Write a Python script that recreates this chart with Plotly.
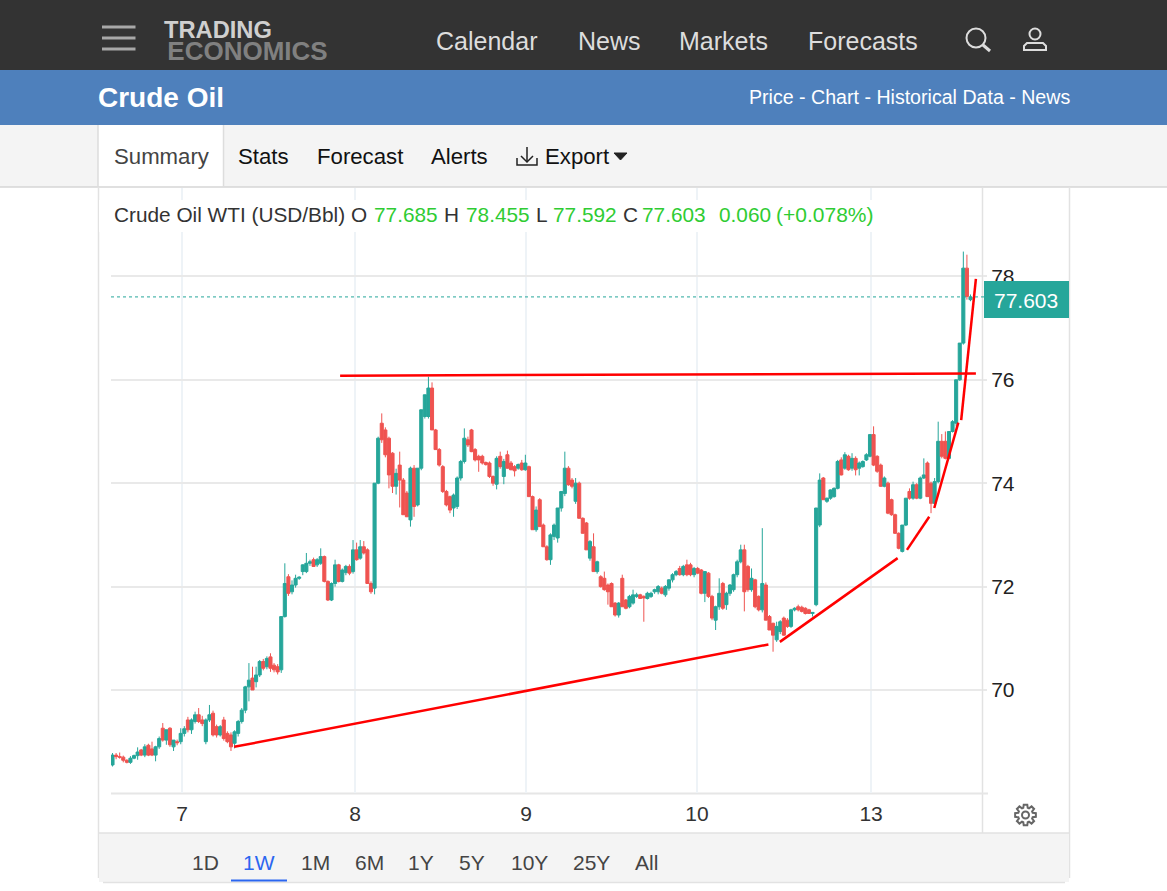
import math
import plotly.graph_objects as go

# Half hour candles for crude oil
opens = [
    68.55,68.74,68.71,68.70,68.64,68.60,68.68,68.73,68.84,68.74,
    68.93,68.86,68.74,68.90,69.26,69.03,69.26,68.90,69.00,69.00,
    69.16,69.42,69.23,69.39,69.52,69.42,69.00,69.42,69.55,69.29,
    69.13,69.42,69.16,69.13,68.97,69.16,69.39,69.61,70.06,70.23,
    70.16,70.29,70.55,70.45,70.64,70.48,70.45,70.39,71.42,72.19,
    71.90,72.03,72.16,72.29,72.29,72.45,72.52,72.42,72.45,72.58,
    72.10,71.74,72.06,72.42,72.10,72.27,72.39,72.29,72.71,72.55,
    72.77,72.71,72.06,71.97,74.00,75.16,75.03,74.87,74.58,73.94,
    74.35,74.06,73.81,73.29,74.29,73.58,74.29,75.29,75.29,75.84,
    75.03,74.65,74.32,73.84,73.74,73.52,73.55,74.10,74.42,74.84,
    75.03,74.65,74.52,74.52,74.40,74.39,74.13,73.98,74.52,74.13,
    74.55,74.39,74.32,74.29,74.39,74.26,74.32,73.74,73.10,73.68,
    73.19,72.77,72.52,72.97,72.94,73.52,73.80,74.29,74.06,73.65,
    74.00,73.32,73.23,72.55,72.77,72.29,72.19,72.16,72.03,72.06,
    71.68,71.45,72.16,71.74,71.61,71.68,71.81,71.84,71.81,71.77,
    71.81,71.90,71.90,71.97,71.84,71.97,72.13,72.23,72.35,72.23,
    72.42,72.42,72.23,72.35,72.32,71.87,72.26,71.81,71.35,71.61,
    72.06,71.65,71.87,71.94,72.23,72.48,72.71,72.39,71.94,72.13,
    71.81,71.55,72.03,71.42,71.29,70.97,71.13,71.39,71.35,71.23,
    71.55,71.61,71.60,71.58,71.55,71.48,71.65,73.19,74.10,73.65,
    73.71,73.74,73.90,74.45,74.29,74.52,74.29,74.48,74.29,74.32,
    74.45,74.52,74.94,74.52,74.35,73.94,74.00,73.68,73.39,73.03,
    72.68,73.19,73.84,73.71,73.97,73.71,74.10,74.39,74.00,73.61,
    74.03,74.81,74.81,74.48,75.00,75.16,76.00,76.71,78.16,77.55,
]
highs = [
    68.78,68.78,68.79,68.73,68.66,68.72,68.75,68.89,68.86,68.95,
    68.96,69.00,68.92,69.10,69.36,69.23,69.28,69.03,69.04,69.26,
    69.30,69.48,69.45,69.58,69.65,69.50,69.45,69.71,69.60,69.33,
    69.32,69.48,69.20,69.18,69.22,69.42,69.65,70.08,70.52,70.45,
    70.45,70.58,70.60,70.65,70.71,70.52,70.50,71.42,72.45,72.24,
    72.12,72.23,72.20,72.43,72.65,72.52,72.56,72.55,72.74,72.60,
    72.12,72.08,72.52,72.44,72.35,72.42,72.43,72.90,72.85,72.90,
    72.88,72.74,72.10,74.00,74.90,75.35,75.08,74.90,74.60,74.28,
    74.61,74.10,73.85,74.32,74.35,74.29,75.42,75.71,76.06,75.95,
    75.05,74.68,74.35,73.87,73.76,73.80,74.13,74.45,75.06,74.90,
    75.05,74.68,74.55,74.55,74.42,74.42,74.15,74.52,74.61,74.47,
    74.63,74.43,74.35,74.38,74.45,74.55,74.34,73.76,73.55,73.71,
    73.22,72.80,73.03,73.22,73.52,73.84,74.61,74.33,74.10,74.10,
    74.03,73.34,73.25,72.90,73.03,72.50,72.22,72.29,72.06,72.08,
    71.70,71.70,72.23,71.76,71.84,71.94,71.88,71.86,71.83,71.90,
    71.90,71.96,72.03,72.00,72.03,72.14,72.26,72.32,72.40,72.42,
    72.52,72.46,72.38,72.38,72.34,72.30,72.28,71.84,71.63,72.16,
    72.09,71.90,72.05,72.25,72.52,72.81,72.81,72.42,72.35,72.15,
    71.83,73.13,72.08,71.45,71.30,71.32,71.35,71.42,71.39,71.57,
    71.60,71.65,71.63,71.60,71.57,71.50,73.52,74.19,74.12,73.72,
    73.88,73.92,74.45,74.50,74.60,74.55,74.58,74.52,74.42,74.44,
    74.58,74.94,75.10,74.54,74.38,74.13,74.03,73.70,73.41,73.05,
    73.19,73.71,73.90,74.03,74.00,74.13,74.48,74.42,74.03,74.10,
    75.19,74.95,75.00,75.00,75.22,76.00,76.71,78.48,78.42,77.65,
]
lows = [
    68.52,68.66,68.67,68.60,68.58,68.57,68.66,68.65,68.72,68.70,
    68.72,68.72,68.62,68.86,69.00,68.94,68.90,68.82,68.93,68.95,
    69.10,69.18,69.15,69.35,69.36,69.30,68.95,69.38,69.10,69.08,
    69.10,69.02,68.97,68.82,68.87,69.10,69.35,69.55,69.78,70.00,
    70.05,70.25,70.38,70.40,70.35,70.34,70.30,70.33,71.40,71.82,
    71.85,71.98,72.13,72.22,72.26,72.40,72.38,72.38,72.42,72.08,
    71.72,71.72,72.00,72.08,72.08,72.22,72.22,72.25,72.50,72.52,
    72.62,72.05,71.86,71.85,73.98,74.78,74.50,73.90,73.81,73.78,
    73.53,73.39,73.35,73.16,73.35,73.55,74.25,75.25,75.25,75.03,
    74.65,74.32,73.81,73.55,73.42,73.35,73.50,74.05,74.38,74.70,
    74.60,74.42,74.22,74.36,74.34,74.10,73.95,73.88,74.28,73.98,
    74.28,74.25,74.13,74.26,74.24,74.24,73.74,73.10,73.06,73.16,
    72.77,72.50,72.42,72.90,72.85,73.45,73.75,73.95,73.90,73.60,
    73.32,73.03,72.71,72.50,72.29,72.25,71.98,71.92,71.65,71.61,
    71.42,71.40,71.61,71.56,71.58,71.65,71.78,71.76,71.32,71.75,
    71.78,71.86,71.85,71.85,71.80,71.92,72.08,72.20,72.21,72.20,
    72.20,72.20,72.18,72.24,71.85,71.70,71.78,71.35,71.16,71.55,
    71.55,71.55,71.82,71.90,72.18,72.45,71.52,71.90,71.90,71.58,
    71.52,71.50,71.35,71.16,70.74,70.93,71.08,71.05,71.20,71.20,
    71.52,71.52,71.50,71.46,71.47,71.42,71.62,73.15,73.68,73.62,
    73.68,73.72,73.88,74.15,74.26,74.24,74.24,74.15,74.15,74.30,
    74.43,74.50,74.33,74.20,73.93,73.92,73.40,73.37,73.02,72.72,
    72.66,73.17,73.68,73.68,73.69,73.69,74.08,73.74,73.42,73.59,
    74.00,74.48,74.46,74.46,74.98,75.10,75.98,76.68,77.55,77.52,
]
closes = [
    68.74,68.71,68.70,68.64,68.60,68.68,68.73,68.80,68.74,68.90,
    68.74,68.74,68.90,69.06,69.03,69.23,68.94,69.03,68.98,69.16,
    69.25,69.23,69.42,69.52,69.39,69.35,69.42,69.52,69.13,69.13,
    69.29,69.06,69.00,68.90,69.19,69.39,69.61,70.06,70.19,70.00,
    70.29,70.55,70.42,70.61,70.42,70.39,70.35,71.42,72.06,71.87,
    72.03,72.16,72.18,72.42,72.45,72.48,72.39,72.52,72.58,72.10,
    71.74,72.06,72.42,72.10,72.32,72.39,72.26,72.71,72.52,72.77,
    72.65,72.06,71.90,74.00,74.87,74.84,74.55,74.16,73.94,74.19,
    74.06,73.39,73.35,74.29,73.55,74.29,75.42,75.71,75.84,75.03,
    74.65,74.35,73.84,73.58,73.48,73.77,74.10,74.42,74.87,74.74,
    74.61,74.45,74.45,74.39,74.36,74.13,74.00,74.48,74.32,74.42,
    74.29,74.26,74.24,74.36,74.26,74.39,73.74,73.10,73.48,73.16,
    72.77,72.52,73.00,73.19,73.52,73.84,74.29,73.97,73.94,74.00,
    73.32,73.03,72.71,72.87,72.29,72.48,72.00,71.94,71.90,71.61,
    71.45,71.68,71.61,71.58,71.81,71.84,71.84,71.77,71.78,71.87,
    71.87,71.94,72.00,71.87,72.00,72.13,72.23,72.29,72.23,72.39,
    72.23,72.23,72.35,72.26,71.87,72.29,71.81,71.39,71.61,71.87,
    71.58,71.87,72.03,72.23,72.48,72.71,71.90,71.94,72.16,71.61,
    71.55,72.06,71.35,71.16,71.06,71.23,71.32,71.06,71.23,71.55,
    71.58,71.55,71.52,71.48,71.48,71.50,73.52,74.06,73.68,73.71,
    73.87,73.90,74.42,74.16,74.55,74.26,74.48,74.26,74.39,74.42,
    74.55,74.94,74.35,74.23,73.94,74.10,73.42,73.39,73.03,72.74,
    73.19,73.71,73.71,73.97,73.71,74.10,74.16,73.74,73.61,74.03,
    74.81,74.52,74.48,75.00,75.19,76.00,76.71,78.16,77.61,77.60,
]
candle_index = list(range(len(closes)))

day_labels = ["7", "8", "9", "10", "13"]
day_positions = [19.36, 67.55, 115.2, 162.8, 211.3]
price_ticks = [70, 72, 74, 76, 78]
last_price = 77.603

# Red trend lines somebody drew on top of the chart
resistance_x = [63.4, 240.5]
resistance_y = [76.08, 76.12]
support_x = [[33.9, 182.7], [185.9, 218.7], [221.3, 227.5], [228.9, 235.6], [236.4, 240.5]]
support_y = [[68.90, 70.88], [70.93, 72.55], [72.71, 73.35], [73.52, 75.17], [75.22, 77.95]]

menu_labels = ["Calendar", "News", "Markets", "Forecasts"]
menu_left = [436, 578, 679, 808]
tab_labels = ["Stats", "Forecast", "Alerts", "Export"]
tab_left = [238, 317, 431, 545]
range_labels = ["1D", "1W", "1M", "6M", "1Y", "5Y", "10Y", "25Y", "All"]
range_center = [205, 259, 315, 369, 421, 472, 529, 591, 646]

WIDTH, HEIGHT = 1167, 891
FONT = "Liberation Sans"
TEAL = "#26a69a"
CORAL = "#ef5350"
GREEN = "#2fcc33"
GRID = "#e9e9e9"
BORDER = "#e2e2e2"


def px(x):
    return x / WIDTH


def py(y):
    return 1 - y / HEIGHT


shapes = []
annotations = []


def rect(x0, y0, x1, y1, fill, layer="below"):
    shapes.append(dict(type="rect", xref="paper", yref="paper", x0=px(x0), x1=px(x1),
                       y0=py(y0), y1=py(y1), fillcolor=fill, line_width=0, layer=layer))


def line(x0, y0, x1, y1, color, width=1, layer="below"):
    shapes.append(dict(type="line", xref="paper", yref="paper", x0=px(x0), x1=px(x1),
                       y0=py(y0), y1=py(y1), line=dict(color=color, width=width), layer=layer))


def path(points, color, width=2, fill=None, close=False):
    d = "M " + " L ".join(f"{px(a):.5f} {py(b):.5f}" for a, b in points)
    if close:
        d += " Z"
    shapes.append(dict(type="path", xref="paper", yref="paper", path=d, layer="above",
                       line=dict(color=color, width=width), fillcolor=fill))


def circle(cx, cy, r, color, width=2):
    shapes.append(dict(type="circle", xref="paper", yref="paper", x0=px(cx - r), x1=px(cx + r),
                       y0=py(cy - r), y1=py(cy + r), line=dict(color=color, width=width), layer="above"))


def label(text, x, y, size, color, anchor="left", bold=False):
    if bold:
        text = f"<b>{text}</b>"
    annotations.append(dict(text=text, x=px(x), y=py(y), xref="paper", yref="paper", showarrow=False,
                            xanchor=anchor, yanchor="middle", align=anchor, borderpad=0, borderwidth=0,
                            font=dict(family=FONT, size=size, color=color)))


# page bars
rect(0, 0, WIDTH, 70, "#333333")
rect(0, 70, WIDTH, 125, "#4e80bc")
rect(0, 125, WIDTH, 187, "#f4f4f4")
rect(98, 125, 223, 188, "white")
line(0, 187, WIDTH, 187, "#d6d6d6", 1.5)
line(98, 125, 98, 187, "#dddddd", 1.5)
line(223.5, 125, 223.5, 187, "#dddddd", 1.5)

# panel round the chart
line(98.5, 187, 98.5, 878, BORDER, 1.5)
line(1069.5, 187, 1069.5, 878, BORDER, 1.5)
rect(99, 833, 1069, 882, "#f4f4f4")
line(99, 833, 1069, 833, BORDER, 1.5)
line(103, 882.5, 1065, 882.5, BORDER, 1.5)
line(982.5, 188, 982.5, 833, BORDER, 1.5)
line(111, 793.5, 988, 793.5, "#e6e6e6", 2)

# hamburger and logo, the logo is one text in two lines
for bar_y in [27, 38, 49]:
    line(102, bar_y, 135.5, bar_y, "#a8a8a8", 3)
logo = ("<b><span style='font-size:23.7px;color:#cfcfcf'>TRADING</span><br>"
        "<span style='font-size:12px'>&nbsp;</span>"
        "<span style='font-size:26px;color:#808080'>ECONOMICS</span></b>")
label(logo, 164, 41, 17, "#cfcfcf")
for name, left in zip(menu_labels, menu_left):
    label(name, left, 41, 25, "#dddddd")

# search and user icons
circle(976, 38, 9.5, "#dddddd")
path([(983, 45), (990, 51)], "#dddddd", 3)
circle(1035, 34, 5.5, "#dddddd")
path([(1024, 50), (1024, 46), (1027, 43), (1043, 43), (1046, 46), (1046, 50)], "#dddddd", 2, close=True)

label("Crude Oil", 98, 98, 28, "white", bold=True)
label("Price - Chart - Historical Data - News", 1070, 97, 19.6, "white", anchor="right")

label("Summary", 114, 157, 22.2, "#444444")
for name, left in zip(tab_labels, tab_left):
    label(name, left, 157, 22.2, "#111111")

# export arrow and caret
path([(527, 147), (527, 161)], "#222222", 1.5)
path([(521, 156), (527, 162), (533, 156)], "#222222", 1.5)
path([(517, 158), (517, 165), (537, 165), (537, 158)], "#222222", 1.5)
path([(614, 153), (627, 153), (620.5, 160)], "#222222", 1, fill="#222222", close=True)

# white strip behind the header hides the grid there
rect(99, 200, 981, 232, "white", layer="above")
label("Crude Oil WTI (USD/Bbl) O", 114, 214, 20.8, "#333333")
label("77.685", 374, 214, 20.8, GREEN)
label("H", 444, 214, 20.8, "#333333")
label("78.455", 466, 214, 20.8, GREEN)
label("L", 536, 214, 20.8, "#333333")
label("77.592", 553, 214, 20.8, GREEN)
label("C", 623, 214, 20.8, "#333333")
label("77.603", 642, 214, 20.8, GREEN)
label("0.060", 719, 214, 20.8, GREEN)
label("(+0.078%)", 776, 214.5, 21, GREEN)

# last price line and its box
shapes.append(dict(type="line", xref="paper", yref="y", x0=px(111), x1=px(984), y0=last_price, y1=last_price,
                   line=dict(color=TEAL, width=1, dash="dot"), layer="above"))
rect(984, 281, 1069, 318, TEAL, layer="above")
label(f"{last_price:.3f}", 1026, 300, 21, "white", anchor="center")

# gear
gear = []
for k in range(8):
    mid = k * math.pi / 4
    for off, rad in [(-0.30, 7.5), (-0.17, 10.5), (0.17, 10.5), (0.30, 7.5)]:
        gear.append((1025.5 + rad * math.cos(mid + off), 815 + rad * math.sin(mid + off)))
path(gear, "#666666", 2, close=True)
circle(1025.5, 815, 3.5, "#666666", 2)

# range selector
for name, center in zip(range_labels, range_center):
    label(name, center, 862, 21, "#2b66f0" if name == "1W" else "#444444", anchor="center")
line(231, 880.5, 287, 880.5, "#2b66f0", 2)

fig = go.Figure()
fig.add_trace(go.Candlestick(
    x=candle_index, open=opens, high=highs, low=lows, close=closes,
    increasing=dict(line=dict(color=TEAL, width=1), fillcolor=TEAL),
    decreasing=dict(line=dict(color=CORAL, width=1), fillcolor=CORAL),
    whiskerwidth=0, showlegend=False,
))
fig.add_trace(go.Scatter(x=resistance_x, y=resistance_y, mode="lines",
                         line=dict(color="#ff0000", width=2.5), showlegend=False))
for seg_x, seg_y in zip(support_x, support_y):
    fig.add_trace(go.Scatter(x=seg_x, y=seg_y, mode="lines",
                             line=dict(color="#ff0000", width=2.5), showlegend=False))

fig.update_layout(
    width=WIDTH, height=HEIGHT,
    margin=dict(l=0, r=0, t=0, b=0),
    paper_bgcolor="white", plot_bgcolor="rgba(0,0,0,0)",
    font=dict(family=FONT),
    showlegend=False,
    boxgap=0.05, boxgroupgap=0.1,
    shapes=shapes, annotations=annotations,
    xaxis=dict(
        domain=[px(111), px(982)], range=[-0.42, 242.2],
        rangeslider=dict(visible=False),
        tickmode="array", tickvals=day_positions, ticktext=day_labels,
        tickfont=dict(size=21, color="#333333", family=FONT),
        ticks="", showline=False, zeroline=False,
        showgrid=True, gridcolor="#eef3f7", gridwidth=1.5,
        ticklabelstandoff=6,
    ),
    yaxis=dict(
        domain=[py(793), py(188)], range=[68.007, 79.71], side="right",
        tickmode="array", tickvals=price_ticks, ticktext=[str(t) for t in price_ticks],
        tickfont=dict(size=21, color="#222222", family=FONT),
        ticks="outside", ticklen=4, tickwidth=2, tickcolor=GRID,
        showline=False, zeroline=False,
        showgrid=True, gridcolor=GRID, gridwidth=2,
    ),
)

fig.write_html("out.html", config=dict(displayModeBar=False),
               post_script="document.body.style.margin='0';document.body.style.overflow='hidden';")
